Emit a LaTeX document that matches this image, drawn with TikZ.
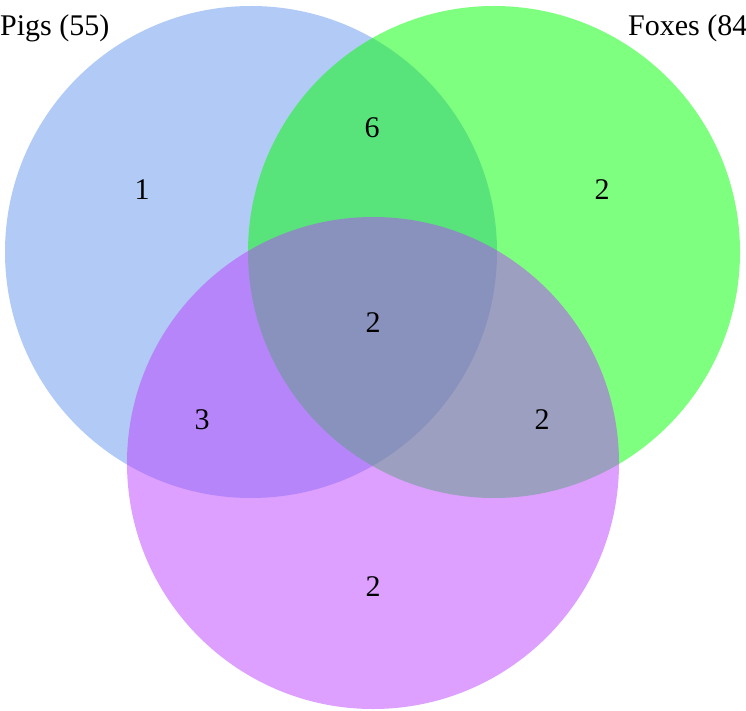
\documentclass[tikz,border=0pt]{standalone}
\usepackage{fontspec}
\setmainfont{Liberation Serif}
\definecolor{pigsblue}{RGB}{100,149,237}
\definecolor{foxgreen}{RGB}{0,255,0}
\definecolor{setpurple}{RGB}{187,65,255}
\tikzstyle{region} = [fill opacity = 0.5, draw = none]
\tikzstyle{count} = [inner sep = 0pt, font = \fontsize{30}{36}\selectfont]
\tikzstyle{setlabel} = [inner sep = 0pt, anchor = base west, font = \fontsize{30}{36}\selectfont]

\begin{document}
\begin{tikzpicture}[x=1pt, y=-1pt]
				\useasboundingbox (0,0) rectangle (746,711);
				\fill[region, pigsblue] (251,252) circle (246pt);
				\fill[region, foxgreen] (494,252) circle (246pt);
				\fill[region, setpurple] (373,463) circle (246pt);
				\node[setlabel] (pigs) at (0,36) {Pigs (55)};
				\node[setlabel] (foxes) at (628,36) {Foxes (84};
				\node[count] (onlyA) at (142,190) {1};
				\node[count] (AB) at (372,128) {6};
				\node[count] (onlyB) at (602,190) {2};
				\node[count] (ABC) at (373,323) {2};
				\node[count] (AC) at (202,420) {3};
				\node[count] (BC) at (542,420) {2};
				\node[count] (onlyC) at (373,587) {2};
			\end{tikzpicture}
\end{document}
